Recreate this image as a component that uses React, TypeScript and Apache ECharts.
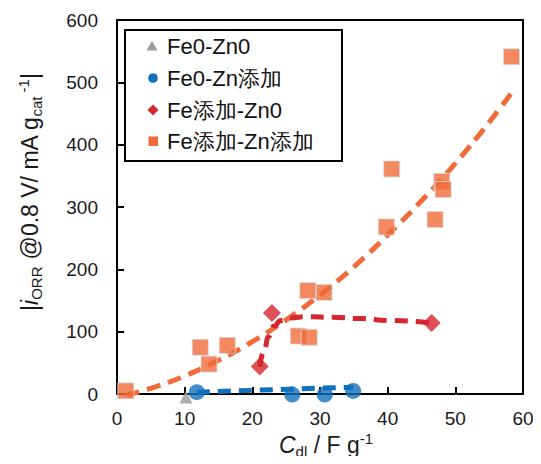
import React, { useEffect, useRef } from 'react';
import * as echarts from 'echarts';

// Series names (legend)
const seriesNames = ['Fe0-Zn0', 'Fe0-Zn添加', 'Fe添加-Zn0', 'Fe添加-Zn添加'];

// Measured points [Cdl, |iORR|]
const fe0zn0: number[][] = [[10.2, -5]];
const fe0znAdd: number[][] = [[11.8, 3], [25.9, -1], [30.7, -1], [34.9, 5]];
const feAddZn0: number[][] = [[21.1, 44], [22.9, 130], [46.5, 114]];
const feAddZnAdd: number[][] = [
  [1.3, 5], [12.3, 75], [13.6, 48], [16.3, 78], [26.8, 93], [28.4, 91],
  [28.2, 166], [30.6, 163], [39.8, 268], [40.6, 361], [47.0, 280],
  [48.0, 341], [48.2, 328], [58.3, 541],
];

// Trend lines
const trendFeAddZnAdd: number[][] = [
  [1.3, -2], [5, 9], [10, 29], [15, 54], [20, 84], [25, 119], [30, 159],
  [35, 204], [40, 255], [45, 310], [50, 370], [55, 436], [58.3, 483],
];
const trendFeAddZn0: number[][] = [
  [21.1, 44], [21.7, 68], [22.4, 92], [23.2, 109], [24.2, 118], [25.5, 122],
  [28, 124], [32, 123], [36, 121], [40, 118], [46.5, 114],
];
const trendFe0ZnAdd: number[][] = [[11.8, 3], [34.9, 11]];

const xMin = 0, xMax = 60, xStep = 10;
const yMin = 0, yMax = 600, yStep = 100;

const ORANGE = '#F06A3A';
const RED = '#D6262F';
const BLUE = '#1170BD';
const GRAY = '#9A9A9A';
const FONT = 'Liberation Sans, Arial, sans-serif';

export default function App() {
  const ref = useRef<HTMLDivElement>(null);
  useEffect(() => {
    if (!ref.current) return;
    const chart = echarts.init(ref.current, undefined, { renderer: 'svg' });
    const labelStyle = { color: '#1a1a1a', fontSize: 19, fontFamily: FONT };
    const rich = {
      it: { fontStyle: 'italic', fontSize: 23, fontFamily: FONT, lineHeight: 28 },
      sub: { fontSize: 15, fontFamily: FONT, verticalAlign: 'bottom', lineHeight: 14 },
      sup: { fontSize: 15, fontFamily: FONT, verticalAlign: 'top', lineHeight: 14 },
    };
    const legendTextX = 167;
    const legendRowY = [46, 78, 110, 141];
    const legendText = (name: string, y: number) => ({
      type: 'text', z: 101, x: legendTextX, y,
      style: { text: name, fontSize: 22, fontFamily: FONT, fill: '#111', align: 'left', verticalAlign: 'middle' },
    });
    chart.setOption({
      animation: false,
      grid: {
        left: 117, right: 18, top: 20, bottom: 70,
        show: true, borderColor: '#000', borderWidth: 2, backgroundColor: 'transparent',
      },
      xAxis: {
        type: 'value', min: xMin, max: xMax, interval: xStep,
        axisLine: { show: true, lineStyle: { color: '#000', width: 2 } },
        axisTick: { show: true, inside: true, length: 7, lineStyle: { color: '#000', width: 2 } },
        axisLabel: { ...labelStyle, margin: 15 },
        splitLine: { show: false },
      },
      yAxis: {
        type: 'value', min: yMin, max: yMax, interval: yStep,
        axisLine: { show: true, lineStyle: { color: '#000', width: 2 } },
        axisTick: { show: true, inside: true, length: 7, lineStyle: { color: '#000', width: 2 } },
        axisLabel: { ...labelStyle, margin: 19 },
        splitLine: { show: false },
      },
      legend: { show: false },
      graphic: [
        {
          type: 'rect', z: 100, silent: true,
          shape: { x: 125, y: 30, width: 217, height: 131 },
          style: { fill: '#fff', stroke: '#000', lineWidth: 2 },
        },
        {
          type: 'polygon', z: 101,
          shape: { points: [[152, 41], [157.5, 50.5], [146.5, 50.5]] },
          style: { fill: GRAY },
        },
        { type: 'circle', z: 101, shape: { cx: 153, cy: legendRowY[1], r: 4.8 }, style: { fill: BLUE } },
        {
          type: 'polygon', z: 101,
          shape: { points: [[153, 104.5], [158.5, 110], [153, 115.5], [147.5, 110]] },
          style: { fill: RED },
        },
        { type: 'rect', z: 101, shape: { x: 148.5, y: 136.5, width: 9.5, height: 9.5 }, style: { fill: ORANGE } },
        legendText(seriesNames[0], legendRowY[0]),
        legendText(seriesNames[1], legendRowY[1]),
        legendText(seriesNames[2], legendRowY[2]),
        legendText(seriesNames[3], legendRowY[3]),
        {
          type: 'text', z: 100,
          x: 30, y: 192, rotation: Math.PI / 2,
          style: {
            text: '|{it|i}{sub|ORR} @0.8 V/ mA g{sub|cat}{sup| -1}|',
            fontSize: 23, fontFamily: FONT, fill: '#1a1a1a',
            align: 'center', verticalAlign: 'middle',
            rich,
          },
        },
        {
          type: 'text', z: 100,
          x: 326, y: 445,
          style: {
            text: '{it|C}{sub|dl} / F g{sup|-1}',
            fontSize: 23, fontFamily: FONT, fill: '#1a1a1a',
            align: 'center', verticalAlign: 'middle',
            rich,
          },
        },
      ],
      series: [
        {
          name: 'trend3', type: 'line', data: trendFeAddZnAdd, smooth: true, showSymbol: false, symbol: 'none',
          lineStyle: { color: ORANGE, width: 5, type: [14, 8] }, z: 1, silent: true,
        },
        {
          name: 'trend2', type: 'line', data: trendFeAddZn0, smooth: 0.5, smoothMonotone: 'x', showSymbol: false, symbol: 'none',
          lineStyle: { color: RED, width: 5, type: [13, 8] }, z: 1, silent: true,
        },
        {
          name: 'trend1', type: 'line', data: trendFe0ZnAdd, showSymbol: false, symbol: 'none',
          lineStyle: { color: BLUE, width: 5, type: [13, 8] }, z: 1, silent: true,
        },
        {
          name: seriesNames[0], type: 'scatter', data: fe0zn0, symbol: 'triangle', symbolSize: 13,
          itemStyle: { color: GRAY }, clip: false, z: 3,
        },
        {
          name: seriesNames[1], type: 'scatter', data: fe0znAdd, symbol: 'circle', symbolSize: 16,
          itemStyle: { color: BLUE }, clip: false, z: 3,
        },
        {
          name: seriesNames[2], type: 'scatter', data: feAddZn0, symbol: 'diamond', symbolSize: 18,
          itemStyle: { color: RED }, clip: false, z: 3,
        },
        {
          name: seriesNames[3], type: 'scatter', data: feAddZnAdd, symbol: 'rect', symbolSize: 16,
          itemStyle: { color: ORANGE, borderColor: '#d8d8d8', borderWidth: 1 }, clip: false, z: 3,
        },
      ],
    });
    return () => chart.dispose();
  }, []);
  return <div ref={ref} style={{ width: 541, height: 464, margin: -8 }} />;
}
